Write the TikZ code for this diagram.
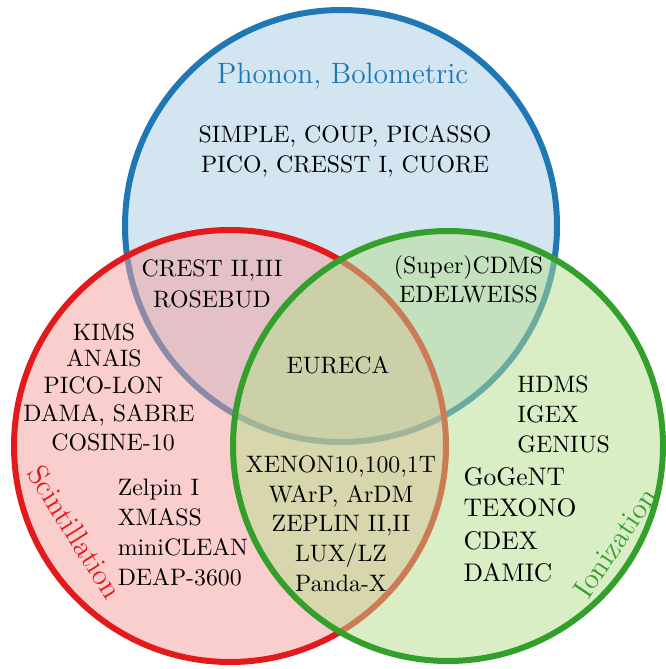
\documentclass[tikz,border=0pt]{standalone}
\begin{document}
\definecolor{cblue}{RGB}{31,120,180}
\definecolor{cred}{RGB}{227,26,28}
\definecolor{cgreen}{RGB}{51,160,44}
\definecolor{fblue}{RGB}{165,203,228}
\definecolor{fred}{RGB}{247,158,158}
\definecolor{fgreen}{RGB}{182,222,140}
\tikzset{
  ring/.style={line width=6pt, fill opacity=0.5, draw opacity=1},
  txt/.style={scale=2.38, inner sep=0pt, anchor=base, font=\normalsize},
  txtl/.style={txt, anchor=base west},
  big/.style={scale=2.55, inner sep=0pt, anchor=base west, font=\normalsize},
  setlbl/.style={scale=2.45, inner sep=0pt, font=\large},
}
\begin{tikzpicture}[x=1pt,y=-1pt]
\useasboundingbox (0,0) rectangle (665,669);
% circles
\draw[ring, draw=cblue, fill=fblue] (341,226) circle[radius=216pt];
\draw[ring, draw=cred, fill=fred] (230,446) circle[radius=216pt];
\draw[ring, draw=cgreen, fill=fgreen] (448,446) circle[radius=215pt];
% set labels
\node[setlbl, text=cblue, anchor=base] (tphon) at (342.5,83) {Phonon, Bolometric};
\node[setlbl, text=cred, rotate=-58] (tscin) at (75,532) {Scintillation};
\node[setlbl, text=cgreen, rotate=56] (tion) at (615,543) {Ionization};
% phonon only
\node[txt] (p1) at (345,142.7) {SIMPLE, COUP, PICASSO};
\node[txt] (p2) at (345,172.3) {PICO, CRESST I, CUORE};
% phonon + scint
\node[txt] (ps1) at (212,276.7) {CREST II,III};
\node[txt] (ps2) at (212,307) {ROSEBUD};
% phonon + ion
\node[txt] (pi1) at (468.5,273.3) {(Super)CDMS};
\node[txt] (pi2) at (468.5,302.7) {EDELWEISS};
% all three
\node[txt] (all) at (338,373) {EURECA};
% scint only
\node[txt] (s1) at (104,340) {KIMS};
\node[txt] (s2) at (104,366.7) {ANAIS};
\node[txt] (s3) at (103.5,393.3) {PICO-LON};
\node[txt] (s4) at (109,421.7) {DAMA, SABRE};
\node[txt] (s5) at (113,450) {COSINE-10};
\node[txtl] (z1) at (117.3,495) {Zelpin I};
\node[txtl] (z2) at (117.3,525) {XMASS};
\node[txtl] (z3) at (117.3,555) {miniCLEAN};
\node[txtl] (z4) at (117.3,585.7) {DEAP-3600};
% scint + ion
\node[txt] (si1) at (341,472.3) {XENON10,100,1T};
\node[txt] (si2) at (341,502.3) {WArP, ArDM};
\node[txt] (si3) at (341,531.7) {ZEPLIN II,II};
\node[txt] (si4) at (341,561.7) {LUX/LZ};
\node[txt] (si5) at (341,591.7) {Panda-X};
% ion only
\node[txtl] (i1) at (517,392.7) {HDMS};
\node[txtl] (i2) at (517,422.7) {IGEX};
\node[txtl] (i3) at (517,452.3) {GENIUS};
\node[big] (i4) at (463,485) {GoGeNT};
\node[big] (i5) at (463,516.7) {TEXONO};
\node[big] (i6) at (463,549) {CDEX};
\node[big] (i7) at (463,581.7) {DAMIC};
\end{tikzpicture}
\end{document}
